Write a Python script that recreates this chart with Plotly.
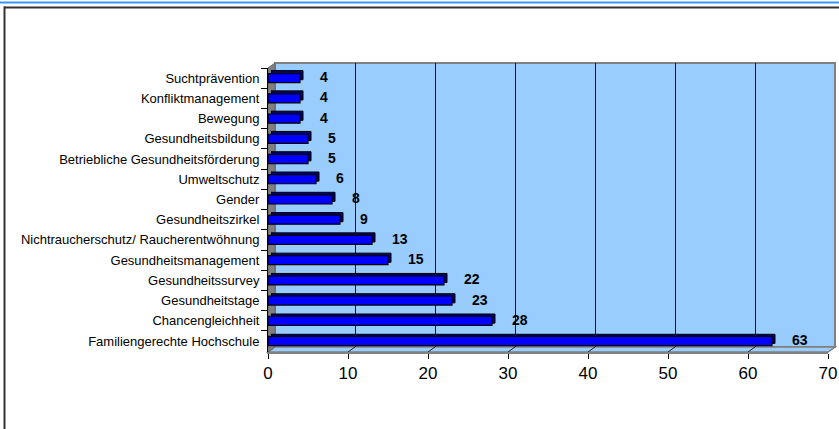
import plotly.graph_objects as go

# ---- data (top to bottom as shown) ----
categories = [
    "Suchtprävention", "Konfliktmanagement", "Bewegung", "Gesundheitsbildung",
    "Betriebliche Gesundheitsförderung", "Umweltschutz", "Gender", "Gesundheitszirkel",
    "Nichtraucherschutz/ Raucherentwöhnung", "Gesundheitsmanagement", "Gesundheitssurvey",
    "Gesundheitstage", "Chancengleichheit", "Familiengerechte Hochschule",
]
values = [4, 4, 4, 5, 5, 6, 8, 9, 13, 15, 22, 23, 28, 63]
x_ticks = [0, 10, 20, 30, 40, 50, 60, 70]

# ---- layout geometry (pixels) ----
W, H = 839, 429
FX0, FX1, FYT, FYB = 268, 828, 68, 352   # front plane
DX, DY = 7, 5                              # depth of walls
BDX, BDY = 3, 3                            # depth of bars


def fx(p):
    return p / W


def fy(p):
    return (H - p) / H


FONT = "Arial, Liberation Sans, sans-serif"

fig = go.Figure()

# back wall subplot (only grid)
fig.add_trace(go.Scatter(x=[None], y=[None], xaxis="x", yaxis="y",
                         showlegend=False, hoverinfo="skip"))
# bar depth (shadow) subplot
fig.add_trace(go.Bar(x=values, y=categories, orientation="h", xaxis="x2", yaxis="y2",
                     marker=dict(color="#000070", line=dict(color="#000000", width=1)),
                     showlegend=False, hoverinfo="skip"))
# front bars
fig.add_trace(go.Bar(x=values, y=categories, orientation="h", xaxis="x3", yaxis="y3",
                     marker=dict(color="#0000FF", line=dict(color="#000000", width=1.2)),
                     showlegend=False))

shapes = [
    # top blue rule
    dict(type="line", xref="paper", yref="paper", x0=0, x1=1, y0=fy(2.5), y1=fy(2.5),
         line=dict(color="#3399FF", width=2)),
    # dark frame
    dict(type="line", xref="paper", yref="paper", x0=fx(4), x1=1, y0=fy(7.5), y1=fy(7.5),
         line=dict(color="#333333", width=2)),
    dict(type="line", xref="paper", yref="paper", x0=fx(4.5), x1=fx(4.5), y0=fy(6.5), y1=0,
         line=dict(color="#333333", width=2)),
    # back wall
    dict(type="rect", xref="paper", yref="paper", x0=fx(FX0 + DX), x1=fx(FX1 + DX),
         y0=fy(FYB - DY), y1=fy(FYT - DY), fillcolor="#99CCFF",
         line=dict(color="#808080", width=2), layer="below"),
    # floor
    dict(type="path", xref="paper", yref="paper",
         path=(f"M {fx(FX0)} {fy(FYB)} L {fx(FX0 + DX)} {fy(FYB - DY)} "
               f"L {fx(FX1 + DX)} {fy(FYB - DY)} L {fx(FX1)} {fy(FYB)} Z"),
         fillcolor="#99CCFF", line=dict(color="#808080", width=1.5), layer="below"),
    # left wall
    dict(type="path", xref="paper", yref="paper",
         path=(f"M {fx(FX0)} {fy(FYT)} L {fx(FX0 + DX)} {fy(FYT - DY)} "
               f"L {fx(FX0 + DX)} {fy(FYB - DY)} L {fx(FX0)} {fy(FYB)} Z"),
         fillcolor="#808080", line=dict(color="#666666", width=1), layer="below"),
]
# floor grid diagonals at the ticks
for v in x_ticks[1:-1]:
    shapes.append(dict(type="line", xref="x3", yref="paper", xsizemode="pixel", xanchor=v,
                       x0=0, x1=DX, y0=fy(FYB), y1=fy(FYB - DY),
                       line=dict(color="#222222", width=1), layer="below"))

annotations = []
for c, v in zip(categories, values):
    annotations.append(dict(x=v, y=c, xref="x3", yref="y3", text=f"<b>{v}</b>",
                            showarrow=False, xanchor="left", xshift=18, yshift=1,
                            font=dict(family=FONT, size=14, color="#000000")))

fig.update_layout(
    width=W, height=H, margin=dict(l=0, r=0, t=0, b=0, autoexpand=False),
    paper_bgcolor="#FFFFFF", plot_bgcolor="rgba(0,0,0,0)",
    bargap=0.55, showlegend=False,
    font=dict(family=FONT, color="#000000"),
    shapes=shapes, annotations=annotations,
    xaxis=dict(domain=[fx(FX0 + DX), fx(FX1 + DX)], range=[0, 70], tickvals=x_ticks,
               showgrid=True, gridcolor="#111111", gridwidth=1, showticklabels=False,
               ticks="", zeroline=False, showline=False, anchor="y", fixedrange=True,
               automargin=False),
    yaxis=dict(domain=[fy(FYB - DY), fy(FYT - DY)], range=[0, 1], showgrid=False,
               showticklabels=False, ticks="", zeroline=False, showline=False,
               anchor="x", fixedrange=True, automargin=False),
    xaxis2=dict(domain=[fx(FX0 + BDX), fx(FX1 + BDX)], range=[0, 70], visible=False,
                anchor="y2", fixedrange=True, automargin=False),
    yaxis2=dict(domain=[fy(FYB - BDY), fy(FYT - BDY)], visible=False, autorange="reversed",
                type="category", anchor="x2", fixedrange=True, automargin=False),
    xaxis3=dict(domain=[fx(FX0), fx(FX1)], range=[0, 70], tickvals=x_ticks,
                showgrid=False, zeroline=False, showline=True, linecolor="#808080", linewidth=1.5,
                ticks="outside", ticklen=5, tickcolor="#000000", tickwidth=1,
                tickfont=dict(family=FONT, size=17, color="#000000"),
                anchor="y3", fixedrange=True, automargin=False),
    yaxis3=dict(domain=[fy(FYB), fy(FYT)], type="category", autorange="reversed",
                showgrid=False, zeroline=False, showline=True, linecolor="#000000", linewidth=1,
                ticks="outside", tickson="boundaries", ticklen=6, tickcolor="#000000",
                ticklabelstandoff=5,
                tickfont=dict(family=FONT, size=13, color="#000000"),
                anchor="x3", fixedrange=True, automargin=False),
)

fig.write_html("out.html", config={"displayModeBar": False},
               post_script="document.body.style.margin='0';")
